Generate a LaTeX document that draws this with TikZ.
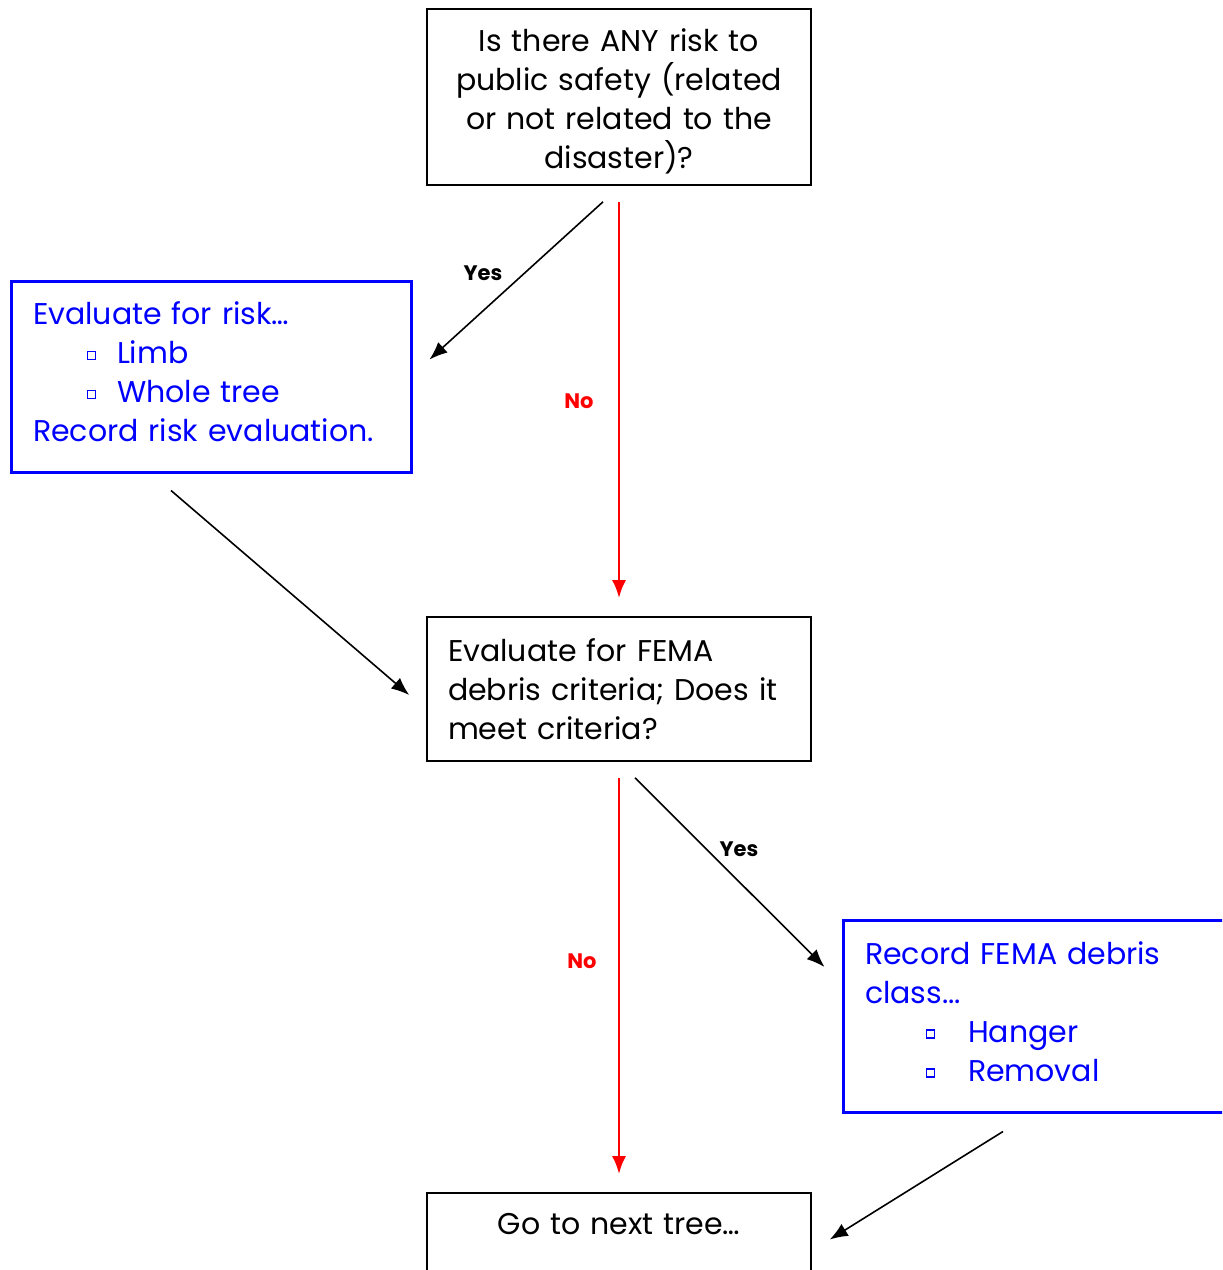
\documentclass[tikz,border=0pt]{standalone}
\usepackage{fontspec}
\setmainfont{Poppins}
\usetikzlibrary{arrows.meta}

\newcommand{\sqbul}{\raisebox{0.3ex}{\setlength{\fboxsep}{0pt}\setlength{\fboxrule}{0.6pt}\fbox{\rule{0pt}{3.4pt}\rule{3.4pt}{0pt}}}}
\newcommand{\itemline}[3]{\makebox[#2][l]{\hspace*{#1}\sqbul}#3}

\tikzset{
  box/.style={draw=black, line width=0.8pt, minimum width=192pt, inner sep=0pt, font=\fontsize{15}{19.5}\selectfont},
  bluebox/.style={draw=blue, text=blue, line width=1.5pt, minimum width=200pt, inner ysep=0pt, inner xsep=11pt, align=left, font=\fontsize{15}{19.5}\selectfont},
  arr/.style={-{Latex[length=9pt,width=7pt]}, line width=0.8pt},
  redarr/.style={arr, draw=red, line width=1.4pt},
  lbl/.style={font=\fontsize{10.5}{12}\selectfont\bfseries}
}

\begin{document}
\begin{tikzpicture}[x=0.5pt, y=-0.5pt]
\useasboundingbox (0,0) rectangle (1222,1270);
\clip (0,0) rectangle (1222,1270);

%draw question boxes
\node[box, minimum height=88pt, text width=180pt, align=center] (q1) at (619, 97)
  {\rule{0pt}{15.5pt}Is there ANY risk to\\ public safety (related\\ or not related to the\\ disaster)?};
\node[box, minimum height=72pt, text width=171pt, inner xsep=10.5pt, align=left] (q2) at (619, 689)
  {Evaluate for FEMA\\ debris criteria; Does it\\ meet criteria?};
\node[box, minimum height=50.5pt, text width=180pt, align=center] (next) at (619, 1243.5)
  {Go to next tree\ldots\\ \mbox{}};

%draw blue boxes
\node[bluebox, text width=178pt, minimum height=95.5pt] (risk) at (211, 376.5)
  {Evaluate for risk\ldots\\
   \itemline{27pt}{42pt}{Limb}\\
   \itemline{27pt}{42pt}{Whole tree}\\
   Record risk evaluation.\rule[-4.5pt]{0pt}{0pt}};
\node[bluebox, text width=178pt, minimum height=96pt] (record) at (1043, 1016)
  {Record FEMA debris\\ class...\\
   \itemline{30.5pt}{51.5pt}{Hanger}\\
   \itemline{30.5pt}{51.5pt}{Removal}\rule[-4.5pt]{0pt}{0pt}};

%draw arrows
\draw[arr] ([shift={(-16,16)}]q1.south) -- ([shift={(17,-17)}]risk.east);
\draw[redarr, shorten <=8pt, shorten >=9pt] (q1.south) -- (q2.north);
\draw[arr] ([shift={(-40,17)}]risk.south) -- ([shift={(-17,6)}]q2.west);
\draw[redarr, shorten <=8pt, shorten >=9pt] (q2.south) -- (next.north);
\draw[arr] ([shift={(16,16)}]q2.south) -- ([shift={(-17,-49)}]record.west);
\draw[arr] ([shift={(-40,18)}]record.south) -- ([shift={(18,-4)}]next.east);

%labels
\node[lbl] (yes1) at (483, 273) {Yes};
\node[lbl, text=red] (no1) at (579, 401) {No};
\node[lbl] (yes2) at (739, 849) {Yes};
\node[lbl, text=red] (no2) at (582, 961) {No};
\end{tikzpicture}
\end{document}
